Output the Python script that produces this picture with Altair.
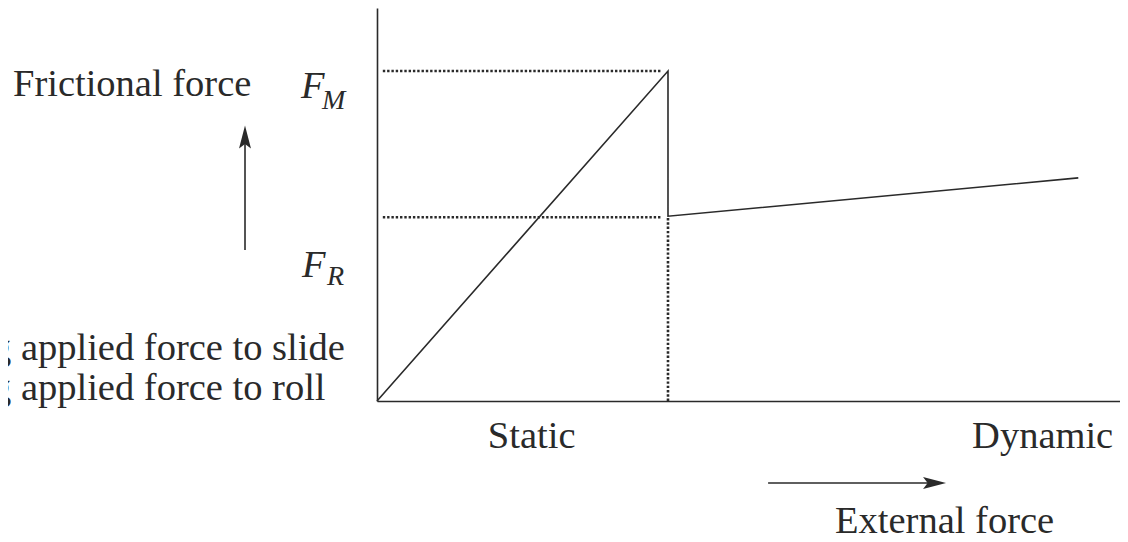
import altair as alt
import pandas as pd

# ---- data (units: x = external force, static peak = 1; y = friction force, F_M = 1) ----
curve_x = [0.0, 1.0, 1.0, 2.41]
curve_y = [0.0, 1.0, 0.56, 0.676]

fm_level = 1.0
fr_level = 0.557
guide_x0 = [0.02, 0.02]
guide_x1 = [0.98, 0.98]
guide_y = [fm_level, fr_level]

vguide_x = [1.0]
vguide_y0 = [0.0]
vguide_y1 = [0.56]

# text annotations (label, x, y)
plain_labels = ["Frictional force", "g applied force to slide", "g applied force to roll",
                "Static", "Dynamic", "External force"]
plain_x = [-1.251, -1.323, -1.323, 0.381, 2.045, 1.574]
plain_y = [0.924, 0.124, 0.003, -0.142, -0.142, -0.4]

sym_labels = ["F", "F"]
sym_x = [-0.261, -0.258]
sym_y = [0.918, 0.376]
sub_labels = ["M", "R"]
sub_x = [-0.189, -0.172]
sub_y = [0.885, 0.352]

# arrows
up_x = [-0.4536]
up_y0 = [0.4576]
up_y1 = [0.80]
right_y = [-0.2485]
right_x0 = [1.344]
right_x1 = [1.916]

INK = "#2a2a2a"
FONT = "Liberation Serif"

xs = alt.Scale(domain=[0, 2.5533], nice=False, zero=False)
ys = alt.Scale(domain=[0, 1.1909], nice=False, zero=False)
xaxis = alt.Axis(title=None, labels=False, ticks=False, grid=False, domain=True,
                 domainColor=INK, domainWidth=1.6)
yaxis = alt.Axis(title=None, labels=False, ticks=False, grid=False, domain=True,
                 domainColor=INK, domainWidth=1.6)


def X(f):
    return alt.X(f, type="quantitative", scale=xs, axis=xaxis)


def Y(f):
    return alt.Y(f, type="quantitative", scale=ys, axis=yaxis)


curve_df = pd.DataFrame({"x": curve_x, "y": curve_y, "o": range(len(curve_x))})
curve = alt.Chart(curve_df).mark_line(color=INK, strokeWidth=1.6).encode(
    x=X("x"), y=Y("y"), order="o:Q")

guide_df = pd.DataFrame({"x": guide_x0, "x2": guide_x1, "y": guide_y})
hguides = alt.Chart(guide_df).mark_rule(color=INK, strokeWidth=2.6, strokeDash=[2.4, 1.9]).encode(
    x=X("x"), x2="x2", y=Y("y"))

vguide_df = pd.DataFrame({"x": vguide_x, "y": vguide_y0, "y2": vguide_y1})
vguide = alt.Chart(vguide_df).mark_rule(color=INK, strokeWidth=2.6, strokeDash=[2.4, 1.9]).encode(
    x=X("x"), y=Y("y"), y2="y2")

plain_df = pd.DataFrame({"t": plain_labels, "x": plain_x, "y": plain_y})
plain = alt.Chart(plain_df).mark_text(font=FONT, fontSize=38.5, color=INK, align="left",
                                       baseline="alphabetic").encode(x=X("x"), y=Y("y"), text="t")

sym_df = pd.DataFrame({"t": sym_labels, "x": sym_x, "y": sym_y})
sym = alt.Chart(sym_df).mark_text(font=FONT, fontSize=38.5, fontStyle="italic", color=INK,
                                   align="left", baseline="alphabetic").encode(
    x=X("x"), y=Y("y"), text="t")

sub_df = pd.DataFrame({"t": sub_labels, "x": sub_x, "y": sub_y})
sub = alt.Chart(sub_df).mark_text(font=FONT, fontSize=28, fontStyle="italic", color=INK,
                                   align="left", baseline="alphabetic").encode(
    x=X("x"), y=Y("y"), text="t")

up_df = pd.DataFrame({"x": up_x, "y": up_y0, "y2": up_y1})
up_shaft = alt.Chart(up_df).mark_rule(color=INK, strokeWidth=1.6).encode(
    x=X("x"), y=Y("y"), y2="y2")
up_head = alt.Chart(pd.DataFrame({"x": up_x, "y": up_y1})).mark_point(
    shape="M0,-1L0.52,1L0,0.6L-0.52,1Z", filled=True, size=529, color=INK, opacity=1).encode(
    x=X("x"), y=Y("y"))

right_df = pd.DataFrame({"x": right_x0, "x2": right_x1, "y": right_y})
right_shaft = alt.Chart(right_df).mark_rule(color=INK, strokeWidth=1.6).encode(
    x=X("x"), x2="x2", y=Y("y"))
right_head = alt.Chart(pd.DataFrame({"x": right_x1, "y": right_y})).mark_point(
    shape="M1,0L-1,-0.52L-0.6,0L-1,0.52Z", filled=True, size=529, color=INK, opacity=1).encode(
    x=X("x"), y=Y("y"))

chart = alt.layer(
    hguides, vguide, curve, plain, sym, sub, up_shaft, up_head, right_shaft, right_head
).properties(
    width=743, height=393,
    padding={"left": 369, "top": 0, "right": 0, "bottom": 133},
    autosize=alt.AutoSizeParams(type="none"),
    background="white",
).configure_view(stroke=None)

chart.save("out.html", embed_options={"renderer": "svg", "actions": False})
